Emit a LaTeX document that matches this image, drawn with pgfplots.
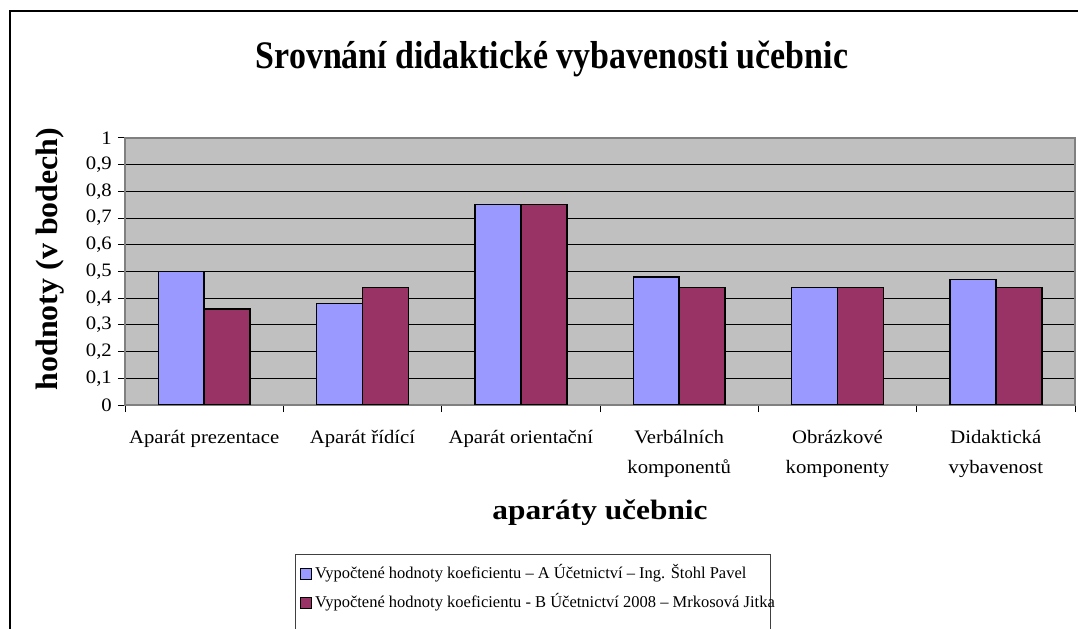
\documentclass[border=0pt]{standalone}
\usepackage{fontspec}
\setmainfont{Liberation Serif}[FakeStretch=1.09]
\newfontfamily\titlefont{Liberation Serif}[FakeStretch=0.87]
\newfontfamily\xlabfont{Liberation Serif}[FakeStretch=1.12]
\newfontfamily\ylabfont{Liberation Serif}[FakeStretch=1.03]
\newfontfamily\legfont{Liberation Serif}
\usepackage{pgfplots}
\pgfplotsset{compat=1.18}
\definecolor{serA}{HTML}{9999FF}
\definecolor{serB}{HTML}{993366}
\definecolor{plotbg}{HTML}{C0C0C0}
\begin{document}
\begin{tikzpicture}
\useasboundingbox (0bp,0bp) rectangle (1078bp,629bp);
\draw[line width=2bp] (10bp,-20bp) -- (10bp,618bp) -- (1100bp,618bp);
\node[font=\titlefont\bfseries\fontsize{39bp}{44bp}\selectfont, anchor=base, inner sep=0pt] at (552bp,560bp) {Srovnání didaktické vybavenosti učebnic};
\draw[black!75, line width=1bp] (295bp,74bp) rectangle (770bp,-30bp);
\begin{axis}[
  at={(125bp,224bp)}, anchor=south west,
  width=950bp, height=267bp, scale only axis,
  xmin=-0.5, xmax=5.5, ymin=0, ymax=1,
  ybar=0pt, bar width=0.29,
  axis background/.style={fill=plotbg},
  ytick={0,0.1,0.2,0.3,0.4,0.5,0.6,0.7,0.8,0.9,1},
  yticklabel style={/pgf/number format/use comma, /pgf/number format/fixed, /pgf/number format/precision=1, /pgf/number format/assume math mode=true,
    font=\fontsize{19bp}{22bp}\selectfont, inner sep=0pt, xshift=-6bp},
  ymajorgrids, grid style={black, line width=0.8bp},
  xtick={-0.5,0.5,1.5,2.5,3.5,4.5,5.5},
  xticklabels={Aparát prezentace, Aparát řídící, Aparát orientační, Verbálních\\komponentů, Obrázkové\\komponenty, Didaktická\\vybavenost, {}},
  xticklabel style={font=\fontsize{19bp}{30bp}\selectfont, align=center, anchor=north, inner sep=0pt, xshift=79.17bp, yshift=-18bp},
  tick align=outside, tick pos=left, major tick length=7bp,
  axis line style={draw=black!50, line width=1.5bp},
  tick style={black, line width=1bp},
  xlabel={aparáty učebnic},
  xlabel style={font=\xlabfont\bfseries\fontsize{28bp}{32bp}\selectfont, at={(axis description cs:0.5,-0.43)}, anchor=base, inner sep=0pt},
  ylabel={hodnoty (v bodech)},
  ylabel style={font=\ylabfont\bfseries\fontsize{31bp}{34bp}\selectfont, at={(axis description cs:-0.0789,0.547)}, anchor=center, inner sep=0pt},
  legend style={draw=none, fill=none, at={(axis description cs:0.1842,-0.603)}, anchor=north west, inner sep=0pt,
    font=\legfont\fontsize{16.5bp}{20bp}\selectfont, row sep=14bp, column sep=3bp,
    nodes={inner sep=0pt, text height=12bp, text depth=3bp}},
  legend cell align=left,
  legend image code/.code={\draw[#1, line width=1bp] (0bp,-5.5bp) rectangle (11bp,5.5bp);},
]
\addplot[fill=serA, draw=black, line width=1.5bp] coordinates {(0,0.50) (1,0.38) (2,0.75) (3,0.48) (4,0.44) (5,0.47)};
\addlegendentry{Vypočtené hodnoty koeficientu – A Účetnictví – Ing. Štohl Pavel}
\addplot[fill=serB, draw=black, line width=1.5bp] coordinates {(0,0.36) (1,0.44) (2,0.75) (3,0.44) (4,0.44) (5,0.44)};
\addlegendentry{Vypočtené hodnoty koeficientu - B Účetnictví 2008 – Mrkosová Jitka}
\end{axis}
\end{tikzpicture}
\end{document}
